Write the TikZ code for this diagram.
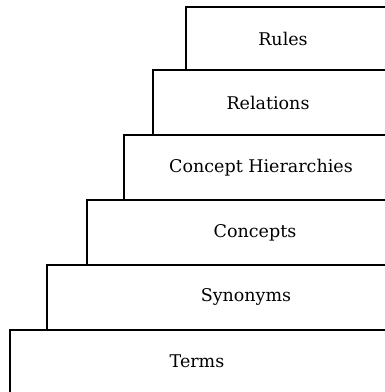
\documentclass[tikz,border=0pt]{standalone}
\usepackage{fontspec}
\setmainfont{DejaVu Serif}
\usepackage{tikz}

\tikzset{
  layer/.style={draw, line width=1.3pt, fill=white},
  tag/.style={font=\fontsize{17.5}{20}\selectfont, inner sep=1pt}
}

\begin{document}
\begin{tikzpicture}[x=1pt,y=-1pt]
  \useasboundingbox (0,0) rectangle (385,392);
  \clip (0,0) rectangle (385,392);
  % layers, bottom to top
  \draw[layer] (10,330) rectangle (420,420);
  \draw[layer] (47,265) rectangle (420,330);
  \draw[layer] (87,200) rectangle (420,265);
  \draw[layer] (124,135) rectangle (420,200);
  \draw[layer] (153,70) rectangle (420,135);
  \draw[layer] (186,7) rectangle (420,70);
  % labels
  \node[tag] (terms) at (197,361) {Terms};
  \node[tag] (synonyms) at (246,297) {Synonyms};
  \node[tag] (concepts) at (255,233) {Concepts};
  \node[tag] (hier) at (261,168) {Concept Hierarchies};
  \node[tag] (relations) at (268,103) {Relations};
  \node[tag] (rules) at (283,39) {Rules};
\end{tikzpicture}
\end{document}
